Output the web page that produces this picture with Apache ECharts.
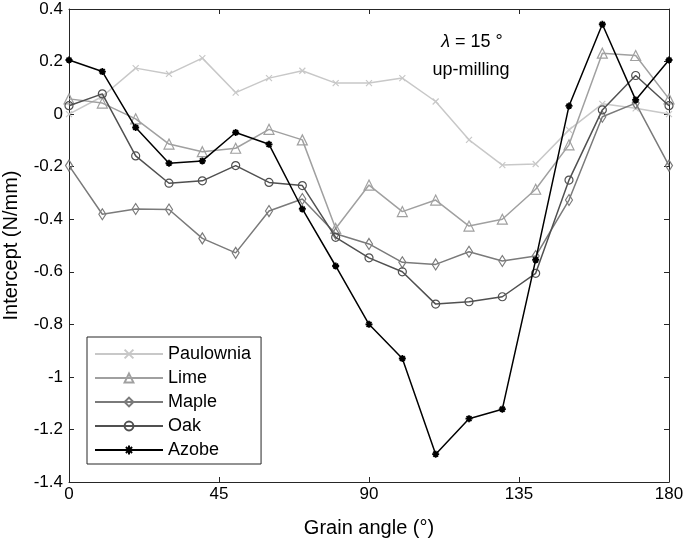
<!DOCTYPE html>
<html>
<head>
<meta charset="utf-8">
<script src="https://cdn.jsdelivr.net/npm/echarts@6/dist/echarts.min.js"></script>
<style>html,body{margin:0;padding:0;background:#fff}#c{width:685px;height:543px}</style>
</head>
<body>
<div id="c"></div>
<script>
const angles = [0,10,20,30,40,50,60,70,80,90,100,110,120,130,140,150,160,170,180];
const paulownia = [0.00,0.067,0.175,0.153,0.213,0.082,0.137,0.165,0.118,0.118,0.137,0.048,-0.098,-0.194,-0.19,-0.06,0.039,0.022,0.00];
const lime = [0.058,0.042,-0.018,-0.114,-0.143,-0.13,-0.058,-0.098,-0.435,-0.27,-0.371,-0.327,-0.426,-0.40,-0.286,-0.117,0.232,0.223,0.058];
const maple = [-0.196,-0.381,-0.361,-0.363,-0.473,-0.528,-0.369,-0.323,-0.455,-0.494,-0.564,-0.572,-0.524,-0.559,-0.54,-0.327,-0.01,0.042,-0.196];
const oak = [0.032,0.077,-0.159,-0.263,-0.254,-0.196,-0.26,-0.272,-0.469,-0.547,-0.60,-0.723,-0.714,-0.695,-0.606,-0.251,0.016,0.147,0.032];
const azobe = [0.206,0.162,-0.051,-0.187,-0.178,-0.07,-0.115,-0.361,-0.578,-0.80,-0.93,-1.294,-1.159,-1.123,-0.555,0.031,0.342,0.054,0.206];
const seriesNames = ['Paulownia','Lime','Maple','Oak','Azobe'];
const xTicks = [0,45,90,135,180];

const FONT = 'Liberation Sans, Arial, Helvetica, sans-serif';
const AX = '#262626';
const pair = arr => arr.map((v,i)=>[angles[i], v]);

function mk(name, data, color, symbol, size, filled, z, bw) {
  return {
    name, type: 'line', data: pair(data), z,
    symbol, symbolSize: size, showSymbol: true,
    lineStyle: {color, width: 1.5},
    itemStyle: {color: filled ? color : 'rgba(255,255,255,0)', borderColor: color, borderWidth: bw},
    emphasis: {disabled: true},
    animation: false
  };
}
const xPath = 'path://M0,0L10,10M10,0L0,10';
const starPath = 'path://M5,0L5,10M0,5L10,5M1.5,1.5L8.5,8.5M8.5,1.5L1.5,8.5';

const chart = echarts.init(document.getElementById('c'), null, {renderer: 'canvas'});
const axisCommon = {
  axisLine: {show: true, onZero: false, lineStyle: {color: AX, width: 1}},
  axisTick: {show: true, inside: true, length: 5, lineStyle: {color: AX}},
  splitLine: {show: false}
};
chart.setOption({
  animation: false,
  backgroundColor: '#fff',
  textStyle: {fontFamily: FONT},
  grid: {left: 69, right: 16, top: 9, bottom: 61, containLabel: false, outerBoundsMode: 'none'},
  xAxis: [
    Object.assign({type: 'value', min: 0, max: 180, interval: 45, position: 'bottom',
      name: 'Grain angle (°)', nameLocation: 'middle', nameGap: 36,
      nameTextStyle: {fontSize: 20, color: '#000', fontFamily: FONT},
      axisLabel: {fontSize: 17, color: '#000', margin: 4, fontFamily: FONT,
        formatter: v => xTicks.indexOf(v) >= 0 ? String(v) : ''}}, axisCommon),
    Object.assign({type: 'value', min: 0, max: 180, interval: 45, position: 'top',
      axisLabel: {show: false}}, axisCommon)
  ],
  yAxis: [
    Object.assign({type: 'value', min: -1.4, max: 0.4, interval: 0.2, position: 'left',
      name: 'Intercept (N/mm)', nameLocation: 'middle', nameGap: 48,
      nameTextStyle: {fontSize: 20, color: '#000', fontFamily: FONT},
      axisLabel: {fontSize: 17, color: '#000', margin: 6, fontFamily: FONT,
        formatter: v => String(Math.round(v*10)/10)}}, axisCommon),
    Object.assign({type: 'value', min: -1.4, max: 0.4, interval: 0.2, position: 'right',
      axisLabel: {show: false}}, axisCommon)
  ],
  legend: {
    orient: 'vertical', left: 87, top: 337,
    data: seriesNames,
    itemWidth: 68, itemHeight: 11, itemGap: 6,
    padding: [8, 10, 5, 7],
    borderColor: AX, borderWidth: 1, backgroundColor: '#fff',
    textStyle: {fontSize: 18, color: '#000', fontFamily: FONT},
    selectedMode: false
  },
  graphic: [
    {type: 'text', x: 472, y: 42, z: 100,
      style: {text: '{i|λ} = 15 °', align: 'center', verticalAlign: 'middle',
        font: '18px ' + FONT, fill: '#000',
        rich: {i: {fontStyle: 'italic', fontSize: 18, fontFamily: FONT}}}},
    {type: 'text', x: 471, y: 70, z: 100,
      style: {text: 'up-milling', align: 'center', verticalAlign: 'middle',
        font: '18px ' + FONT, fill: '#000'}}
  ],
  series: [
    mk('Paulownia', paulownia, '#c8c8c8', xPath, 6, true, 2, 1.2),
    mk('Lime', lime, '#a0a0a0', 'triangle', 10, false, 3, 1.2),
    mk('Maple', maple, '#7a7a7a', 'diamond', [7, 11], false, 4, 1.2),
    mk('Oak', oak, '#505050', 'circle', 8, false, 5, 1.2),
    mk('Azobe', azobe, '#000000', starPath, 7, true, 6, 1.8)
  ]
});
</script>
</body>
</html>
